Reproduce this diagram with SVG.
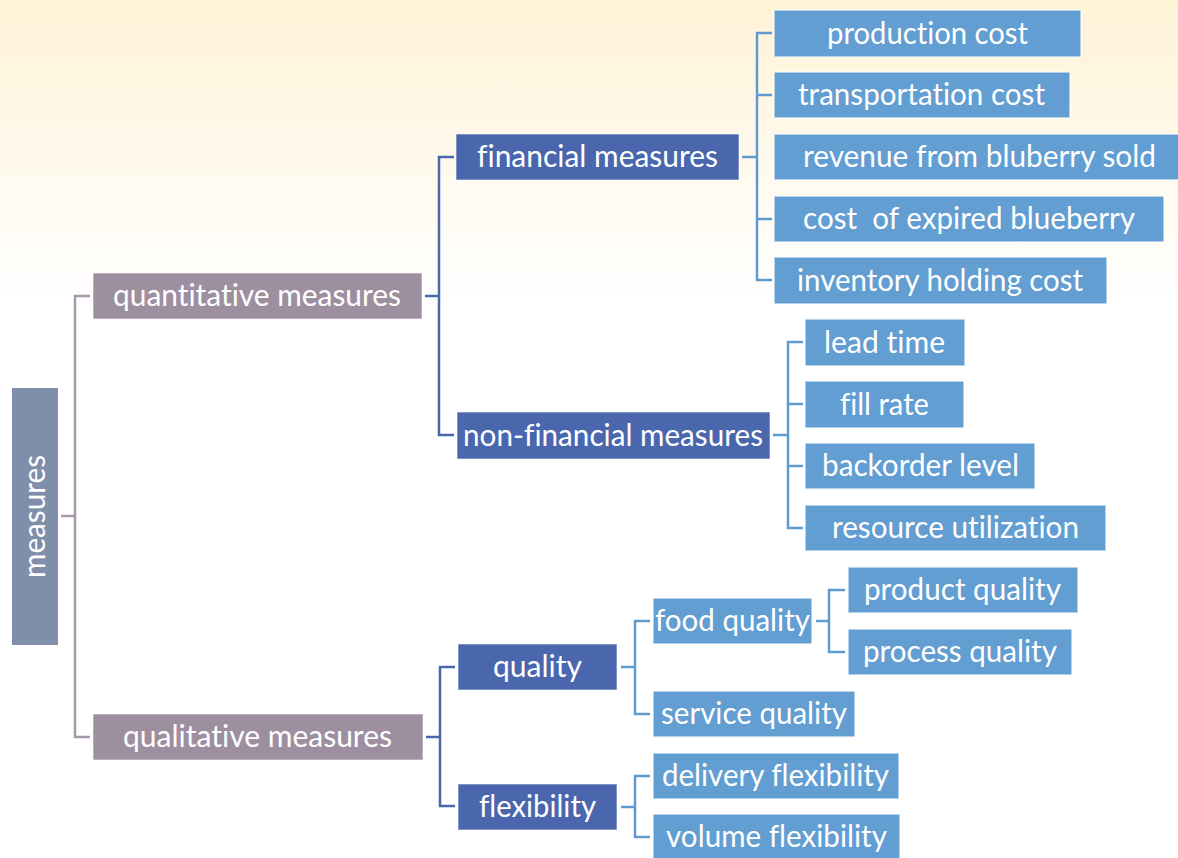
<svg xmlns="http://www.w3.org/2000/svg" width="1178" height="858" viewBox="0 0 1178 858">
<defs>
<linearGradient id="bg" x1="0" y1="0" x2="0" y2="300" gradientUnits="userSpaceOnUse">
<stop offset="0" stop-color="#fff3d7"/>
<stop offset="1" stop-color="#ffffff"/>
</linearGradient>
</defs>
<style>
text{font-family:Lato,"Liberation Sans",sans-serif;font-size:31px;fill:#ffffff;text-anchor:middle;white-space:pre;font-variant-ligatures:none;font-feature-settings:"liga" 0,"clig" 0}
.root{fill:#7f8fa9}
.l1{fill:#9e8fa0;stroke:#ffffff;stroke-opacity:.6;stroke-width:1}
.l2{fill:#4a67ae;stroke:#ffffff;stroke-opacity:.6;stroke-width:1}
.l3{fill:#629ed2;stroke:#ffffff;stroke-opacity:.7;stroke-width:1.5}
.c{fill:none;stroke-width:2.5}
.cg{stroke:#a697aa}
.cb{stroke:#4a66ac}
.cl{stroke:#5f9bd0}
</style>
<rect width="1178" height="858" fill="url(#bg)"/>
<g id="connectors">
<path class="c cg" d="M61 516H75M90 296H75V737H90"/>
<path class="c cb" d="M425 296H439M454 157H439V435H454"/>
<path class="c cb" d="M426 737H440M455 667H440V806H455"/>
<path class="c cl" d="M742 157H757M772 33H757V280H772M757 95H772M757 219H772"/>
<path class="c cl" d="M773 435H788M803 342H788V528H803M788 404H803M788 466H803"/>
<path class="c cl" d="M621 667H635M650 621H635V714H650"/>
<path class="c cl" d="M621 807H635M650 776H635V837H650"/>
<path class="c cl" d="M816 621H829M845 590H829V652H845"/>
</g>
<g id="measures"><rect class="root" x="12" y="388" width="46" height="257"/><text transform="translate(45 516.5) rotate(-90)" textLength="123" lengthAdjust="spacingAndGlyphs">measures</text></g>
<g id="quantitative"><rect class="l1" x="93" y="273" width="329" height="46"/><text x="257" y="306" textLength="288" lengthAdjust="spacingAndGlyphs">quantitative measures</text></g>
<g id="qualitative"><rect class="l1" x="93" y="714" width="330" height="46"/><text x="257.5" y="747" textLength="269" lengthAdjust="spacingAndGlyphs">qualitative measures</text></g>
<g id="financial"><rect class="l2" x="456" y="134" width="283" height="46"/><text x="597.5" y="167" textLength="241" lengthAdjust="spacingAndGlyphs">financial measures</text></g>
<g id="nonfinancial"><rect class="l2" x="457" y="412" width="313" height="47"/><text x="613" y="445.5" textLength="300" lengthAdjust="spacingAndGlyphs">non-financial measures</text></g>
<g id="quality"><rect class="l2" x="458" y="644" width="159" height="46"/><text x="537.5" y="677" textLength="89" lengthAdjust="spacingAndGlyphs">quality</text></g>
<g id="flexibility"><rect class="l2" x="458" y="784" width="159" height="46"/><text x="537.5" y="817" textLength="117" lengthAdjust="spacingAndGlyphs">flexibility</text></g>
<g id="production"><rect class="l3" x="774" y="10" width="307" height="47"/><text x="927.5" y="43.5" textLength="201" lengthAdjust="spacingAndGlyphs">production cost</text></g>
<g id="transportation"><rect class="l3" x="774" y="72" width="296" height="46"/><text x="921.5" y="105" textLength="247" lengthAdjust="spacingAndGlyphs">transportation cost</text></g>
<g id="revenue"><rect class="l3" x="774" y="134" width="406" height="46"/><text x="979.5" y="167" textLength="353" lengthAdjust="spacingAndGlyphs">revenue from bluberry sold</text></g>
<g id="expired"><rect class="l3" x="774" y="196" width="390" height="46"/><text x="969" y="229" textLength="332" lengthAdjust="spacingAndGlyphs">cost  of expired blueberry</text></g>
<g id="inventory"><rect class="l3" x="774" y="257" width="333" height="47"/><text x="940" y="290.5" textLength="286" lengthAdjust="spacingAndGlyphs">inventory holding cost</text></g>
<g id="leadtime"><rect class="l3" x="805" y="319" width="160" height="47"/><text x="884.5" y="352.5" textLength="121" lengthAdjust="spacingAndGlyphs">lead time</text></g>
<g id="fillrate"><rect class="l3" x="805" y="381" width="159" height="47"/><text x="884.5" y="414.5" textLength="89" lengthAdjust="spacingAndGlyphs">fill rate</text></g>
<g id="backorder"><rect class="l3" x="805" y="443" width="230" height="46"/><text x="920.5" y="476" textLength="197" lengthAdjust="spacingAndGlyphs">backorder level</text></g>
<g id="resource"><rect class="l3" x="805" y="505" width="301" height="46"/><text x="955.5" y="538" textLength="247" lengthAdjust="spacingAndGlyphs">resource utilization</text></g>
<g id="foodquality"><rect class="l3" x="653" y="598" width="159" height="46"/><text x="732.5" y="631" textLength="155" lengthAdjust="spacingAndGlyphs">food quality</text></g>
<g id="productquality"><rect class="l3" x="848" y="567" width="230" height="46"/><text x="962.5" y="600" textLength="197" lengthAdjust="spacingAndGlyphs">product quality</text></g>
<g id="processquality"><rect class="l3" x="848" y="629" width="224" height="46"/><text x="960" y="662" textLength="194" lengthAdjust="spacingAndGlyphs">process quality</text></g>
<g id="servicequality"><rect class="l3" x="653" y="691" width="202" height="46"/><text x="754" y="724" textLength="186" lengthAdjust="spacingAndGlyphs">service quality</text></g>
<g id="delivery"><rect class="l3" x="653" y="753" width="246" height="46"/><text x="775.5" y="786" textLength="227" lengthAdjust="spacingAndGlyphs">delivery flexibility</text></g>
<g id="volume"><rect class="l3" x="653" y="814" width="247" height="46"/><text x="776.5" y="847" textLength="221" lengthAdjust="spacingAndGlyphs">volume flexibility</text></g>
</svg>
